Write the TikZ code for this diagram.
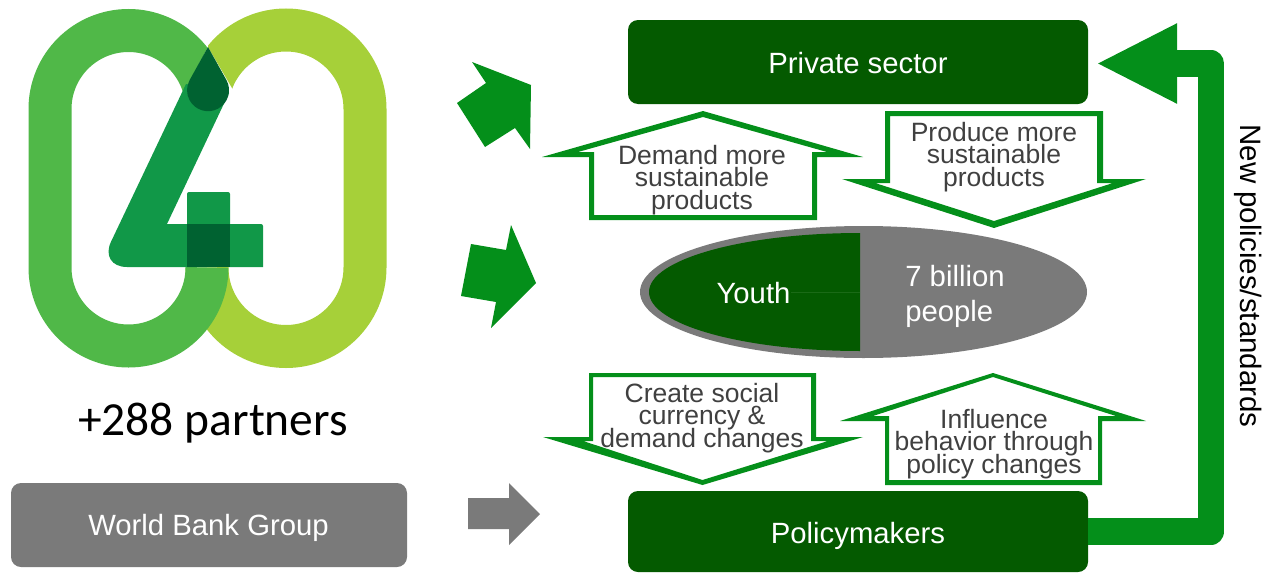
\documentclass[tikz,border=0pt]{standalone}
\usepackage{fontspec}
\setmainfont{Liberation Sans}
\newfontfamily\logofont{Carlito}
\usetikzlibrary{arrows.meta,shapes.geometric}
\normallineskiplimit=-100pt\relax
\normallineskip=0pt\relax
\lineskiplimit=-100pt\relax
\lineskip=0pt\relax
\definecolor{dkgreen}{HTML}{045A00}
\definecolor{midgreen}{HTML}{048F1A}
\definecolor{midgrey}{HTML}{7A7A7A}
\definecolor{txtgrey}{HTML}{404040}
\definecolor{ringa}{HTML}{50B848}
\definecolor{ringb}{HTML}{A6D039}
\definecolor{stemc}{HTML}{119848}
\definecolor{darkc}{HTML}{006231}
\definecolor{seam}{HTML}{1A6A16}
\tikzset{
  x=1pt,y=-1pt,
  box/.style={rectangle,rounded corners=10pt,minimum width=#1,inner sep=0pt},
  hollow/.style={fill=midgreen,even odd rule,draw=none},
  blockarrow/.style={fill=midgreen,draw=none},
  armlabel/.style={align=center,text=txtgrey,inner sep=0pt,font=\fontsize{26.5}{22.5}\selectfont},
  ringstroke/.style={line width=43pt,draw=#1},
  bigarrow/.style={draw=midgreen,line width=26.5pt,line join=round,-{Triangle[length=81pt,width=74pt]}},
  plain/.style={inner sep=0pt,text=white,font=\fontsize{29.3}{32}\selectfont}
}
\begin{document}
\begin{tikzpicture}
\useasboundingbox (0,0) rectangle (1269,573);
% logo: right ring
\begin{scope}
\clip (208,0) -- (400,0) -- (400,400) -- (180,400) -- (180,250) -- (232,250) -- (232,88) -- (208,47) -- cycle;
\draw[ringstroke=ringb] (207,109) arc[start angle=180,end angle=0,x radius=79,y radius=-79] -- (365,267.5) arc[start angle=0,end angle=-180,x radius=79,y radius=-79];
\end{scope}
% logo: left ring
\begin{scope}
\clip (0,0) -- (208,0) -- (208,47) -- (180,100) -- (180,240) -- (240,240) -- (240,573) -- (0,573) -- cycle;
\draw[ringstroke=ringa] (207,109) arc[start angle=0,end angle=180,x radius=78.5,y radius=-78.5] -- (50,267.5) arc[start angle=180,end angle=360,x radius=78.5,y radius=-78.5];
\end{scope}
% logo: the four
\fill[stemc] (186,84) [rounded corners=28pt] -- (99,267) [sharp corners] -- (263,267) [rounded corners=2pt] -- (263,224) [sharp corners] -- (167,224) -- (229,93) -- cycle;
\fill[stemc,rounded corners=2pt] (187,240) -- (187,192) -- (230,192) -- (230,240) -- cycle;
\fill[darkc] (187,224) rectangle (230,267);
\fill[darkc] (208,47) -- (226.4,80) arc[start angle=-29,end angle=209,x radius=21,y radius=21] -- cycle;
\node[font=\logofont\fontsize{47.5}{50}\selectfont,inner sep=0pt,anchor=base] (partners) at (213,435) {+288 partners};
% boxes
\node[box=460pt,minimum height=84pt,fill=dkgreen] (private) at (858,62) {};
\node[plain] (privatet) at (858,63) {Private sector};
\node[box=460pt,minimum height=81pt,fill=dkgreen] (policy) at (858,531.5) {};
\node[plain] (policyt) at (858,536) {Policymakers};
\node[box=396pt,minimum height=84pt,fill=midgrey] (world) at (209,525) {};
\node[plain] (worldt) at (208.5,528) {World Bank Group};
% block arrows on the left
\fill[blockarrow] (472,62) -- (531,85) -- (530,149) -- (515,128) -- (485,147) -- (457,103) -- (486,83) -- cycle;
\fill[blockarrow] (511,225) -- (536,283) -- (491,328) -- (496,302) -- (461,296) -- (471,244) -- (506,250) -- cycle;
\fill[midgrey] (468,498) -- (509,498) -- (509,483) -- (540,514) -- (509,545) -- (509,529) -- (468,529) -- cycle;
% hollow arrows
\fill[hollow] (703,111) -- (542,157) -- (589,157) -- (589,220) -- (817,220) -- (817,157) -- (863,157) -- cycle
  (703,117) -- (578,152) -- (594,152) -- (594,215) -- (812,215) -- (812,152) -- (827,152) -- cycle;
\node[armlabel] (demand) at (702,180) {Demand more\\sustainable\\products};
\fill[hollow] (885,111) -- (1103,111) -- (1103,179) -- (1146,179) -- (994,228) -- (842,179) -- (885,179) -- cycle
  (890,116) -- (1097,116) -- (1097,183) -- (1113,183) -- (994,221) -- (875,183) -- (890,183) -- cycle;
\node[armlabel] (produce) at (994,156.7) {Produce more\\sustainable\\products};
\fill[hollow] (589,373) -- (816,373) -- (816,437) -- (863,437) -- (702.5,485) -- (543,437) -- (589,437) -- cycle
  (593,377) -- (811,377) -- (811,441) -- (828,441) -- (702.5,480) -- (583,441) -- (593,441) -- cycle;
\node[armlabel] (create) at (702,418) {Create social\\currency \&\\demand changes};
\fill[hollow] (993,373) -- (840,421) -- (885,421) -- (885,485) -- (1102,485) -- (1102,421) -- (1146,421) -- cycle
  (993,377) -- (873,416) -- (889,416) -- (889,480) -- (1098,480) -- (1098,416) -- (1116,416) -- cycle;
\node[armlabel] (influence) at (994,444) {Influence\\behavior through\\policy changes};
% ellipse
\node[ellipse,fill=midgrey,minimum width=447pt,minimum height=132pt,inner sep=0pt] (people) at (863.5,292) {};
\fill[dkgreen] (860,233) arc[start angle=90,end angle=270,x radius=211,y radius=-59] -- cycle;
\coordinate (seamend) at (860,292);
\node[plain] (youth) at (753.5,293) {Youth};
\draw[seam,line width=.5pt] (youth.east) ++(0,-1) -- (seamend);
\node[plain,align=left,font=\fontsize{29.3}{35}\selectfont] (seven) at (955,296) {7 billion\\people};
% feedback arrow
\coordinate (bendlow) at (1211,531.5);
\coordinate (bendhigh) at (1211,63.5);
\coordinate (headtip) at (1096,63.5);
\draw[bigarrow] (policy.east) -- (bendlow) -- (bendhigh) -- (headtip);
\node[rotate=-90,inner sep=0pt,font=\fontsize{29.5}{32}\selectfont,text=black] (policies) at (1248,276) {New policies/standards};
\end{tikzpicture}
\end{document}
